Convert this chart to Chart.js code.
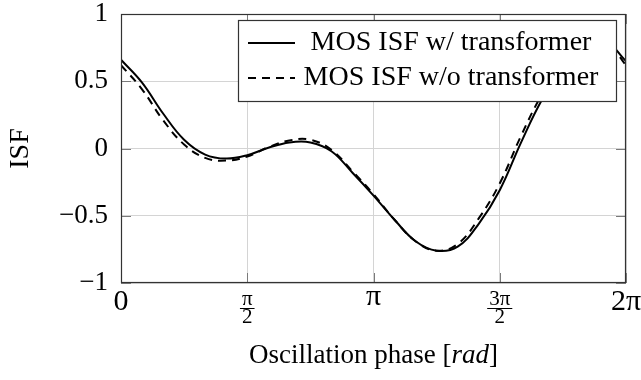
<!DOCTYPE html>
<html>
<head>
<meta charset="utf-8">
<title>ISF vs oscillation phase</title>
<script src="https://cdn.jsdelivr.net/npm/chart.js"></script>
<style>
  html, body { margin: 0; padding: 0; background: #fff; }
  #wrap { width: 641px; height: 380px; }
</style>
</head>
<body>
<div id="wrap"><canvas id="isfChart" width="641" height="380"></canvas></div>
<script>
// phase samples [rad], one every pi/12
const phase = [0, 0.262, 0.524, 0.785, 1.047, 1.309, 1.571, 1.833, 2.094, 2.356, 2.618, 2.880,
  3.142, 3.403, 3.665, 3.927, 4.189, 4.451, 4.712, 4.974, 5.236, 5.498, 5.760, 6.021, 6.283];

// values
const isfWithTransformer = [0.66, 0.49, 0.26, 0.065, -0.045, -0.075, -0.05, 0.005, 0.045, 0.045, -0.02, -0.18,
  -0.35, -0.53, -0.69, -0.76, -0.73, -0.56, -0.31, 0.04, 0.36, 0.60, 0.76, 0.80, 0.65];
const isfWithoutTransformer = [0.62, 0.44, 0.21, 0.03, -0.07, -0.09, -0.06, 0.01, 0.06, 0.065, -0.01, -0.17,
  -0.34, -0.53, -0.69, -0.76, -0.71, -0.52, -0.26, 0.09, 0.40, 0.63, 0.78, 0.80, 0.62];

const seriesNames = ['MOS ISF w/ transformer', 'MOS ISF w/o transformer'];

const xTickValues = [0, 1.5708, 3.1416, 4.7124, 6.2832];
const xTickLabels = [['0'], ['π', '2'], ['π'], ['3π', '2'], ['2π']];
const yTickValues = [-1, -0.5, 0, 0.5, 1];
const yTickLabels = ['−1', '−0.5', '0', '0.5', '1'];

const SERIF = '"Liberation Serif", "Times New Roman", serif';

function toPoints(ys) {
  return phase.map((x, i) => ({ x: x, y: ys[i] }));
}

// box, inner tick marks, legend, x labels and title (pgfplots look)
const decorPlugin = {
  id: 'decor',
  beforeDatasetsDraw(chart) {
    const { ctx, chartArea: a, scales } = chart;
    ctx.save();
    ctx.strokeStyle = '#7a7a7a';
    ctx.lineWidth = 1;
    ctx.beginPath();
    scales.x.ticks.forEach(t => {
      const px = Math.round(scales.x.getPixelForValue(t.value)) + 0.5;
      ctx.moveTo(px, a.bottom); ctx.lineTo(px, a.bottom - 10);
      ctx.moveTo(px, a.top); ctx.lineTo(px, a.top + 10);
    });
    scales.y.ticks.forEach(t => {
      const py = Math.round(scales.y.getPixelForValue(t.value)) + 0.5;
      ctx.moveTo(a.left, py); ctx.lineTo(a.left + 10, py);
      ctx.moveTo(a.right, py); ctx.lineTo(a.right - 10, py);
    });
    ctx.stroke();
    ctx.restore();
  },
  afterDraw(chart) {
    const { ctx, chartArea: a, scales } = chart;
    ctx.save();

    // plot frame
    ctx.strokeStyle = '#333';
    ctx.lineWidth = 1.2;
    ctx.strokeRect(a.left + 0.5, a.top + 0.5, a.right - a.left - 1, a.bottom - a.top - 1);

    // legend box
    const lg = { left: 238, top: 20, right: 616, bottom: 101 };
    ctx.fillStyle = '#fff';
    ctx.fillRect(lg.left, lg.top, lg.right - lg.left, lg.bottom - lg.top);
    ctx.strokeStyle = '#333';
    ctx.lineWidth = 1.2;
    ctx.strokeRect(lg.left + 0.5, lg.top + 0.5, lg.right - lg.left, lg.bottom - lg.top);
    const rowY = [43, 78];
    chart.data.datasets.forEach((ds, i) => {
      ctx.strokeStyle = ds.borderColor;
      ctx.lineWidth = ds.borderWidth;
      ctx.setLineDash(ds.borderDash || []);
      ctx.beginPath();
      ctx.moveTo(248, rowY[i]);
      ctx.lineTo(295, rowY[i]);
      ctx.stroke();
      ctx.setLineDash([]);
      ctx.fillStyle = '#000';
      ctx.font = '28px ' + SERIF;
      ctx.textAlign = 'center';
      ctx.textBaseline = 'alphabetic';
      ctx.fillText(ds.label, 451, rowY[i] + 7);
    });

    // x tick labels
    ctx.fillStyle = '#000';
    ctx.strokeStyle = '#000';
    ctx.textAlign = 'center';
    ctx.textBaseline = 'alphabetic';
    xTickValues.forEach((v, i) => {
      const px = scales.x.getPixelForValue(v);
      const lab = xTickLabels[i];
      if (lab.length === 1) {
        ctx.font = '30px ' + SERIF;
        const m = ctx.measureText(lab[0]);
        ctx.fillText(lab[0], px, a.bottom + 8 + m.actualBoundingBoxAscent);
      } else {
        ctx.font = '21px ' + SERIF;
        const w = Math.max(ctx.measureText(lab[0]).width, ctx.measureText(lab[1]).width) + 4;
        ctx.fillText(lab[0], px, a.bottom + 22);
        ctx.fillText(lab[1], px, a.bottom + 40);
        ctx.lineWidth = 1;
        ctx.beginPath();
        ctx.moveTo(px - w / 2, a.bottom + 25.5);
        ctx.lineTo(px + w / 2, a.bottom + 25.5);
        ctx.stroke();
      }
    });

    // x axis title, with the unit in italics
    const parts = [['Oscillation phase [', 'normal'], ['rad', 'italic'], [']', 'normal']];
    let total = 0;
    parts.forEach(p => { ctx.font = p[1] + ' 27px ' + SERIF; total += ctx.measureText(p[0]).width; });
    let cx = (a.left + a.right) / 2 - total / 2;
    ctx.textAlign = 'left';
    parts.forEach(p => {
      ctx.font = p[1] + ' 27px ' + SERIF;
      ctx.fillText(p[0], cx, 363);
      cx += ctx.measureText(p[0]).width;
    });
    ctx.restore();
  }
};

new Chart(document.getElementById('isfChart'), {
  type: 'line',
  data: {
    datasets: [{
      label: seriesNames[0],
      data: toPoints(isfWithTransformer),
      borderColor: '#000',
      borderWidth: 2,
      pointRadius: 0,
      tension: 0.4,
      fill: false
    }, {
      label: seriesNames[1],
      data: toPoints(isfWithoutTransformer),
      borderColor: '#000',
      borderWidth: 2,
      borderDash: [8, 6],
      pointRadius: 0,
      tension: 0.4,
      fill: false
    }]
  },
  options: {
    responsive: false,
    animation: false,
    layout: { padding: { top: 0, right: 15, left: 0, bottom: 0 } },
    plugins: {
      legend: { display: false },
      tooltip: { enabled: false }
    },
    scales: {
      x: {
        type: 'linear',
        min: 0,
        max: 6.2832,
        afterBuildTicks: scale => { scale.ticks = xTickValues.map(v => ({ value: v })); },
        afterFit: scale => { scale.height = 97; },
        ticks: { display: false },
        grid: { color: '#d4d4d4', lineWidth: 1, drawTicks: false },
        border: { display: false }
      },
      y: {
        min: -1,
        max: 1,
        afterBuildTicks: scale => { scale.ticks = yTickValues.map(v => ({ value: v })); },
        afterFit: scale => {
          scale.width = 121;
          scale.paddingTop = 14;
          scale.paddingBottom = 14;
        },
        ticks: {
          color: '#000',
          padding: 13,
          font: { family: SERIF, size: 27 },
          callback: v => yTickLabels[yTickValues.indexOf(v)]
        },
        grid: { color: '#d4d4d4', lineWidth: 1, drawTicks: false },
        border: { display: false },
        title: {
          display: true,
          text: 'ISF',
          color: '#000',
          font: { family: SERIF, size: 28 },
          padding: { top: 4, bottom: 0 }
        }
      }
    }
  },
  plugins: [decorPlugin]
});
</script>
</body>
</html>
